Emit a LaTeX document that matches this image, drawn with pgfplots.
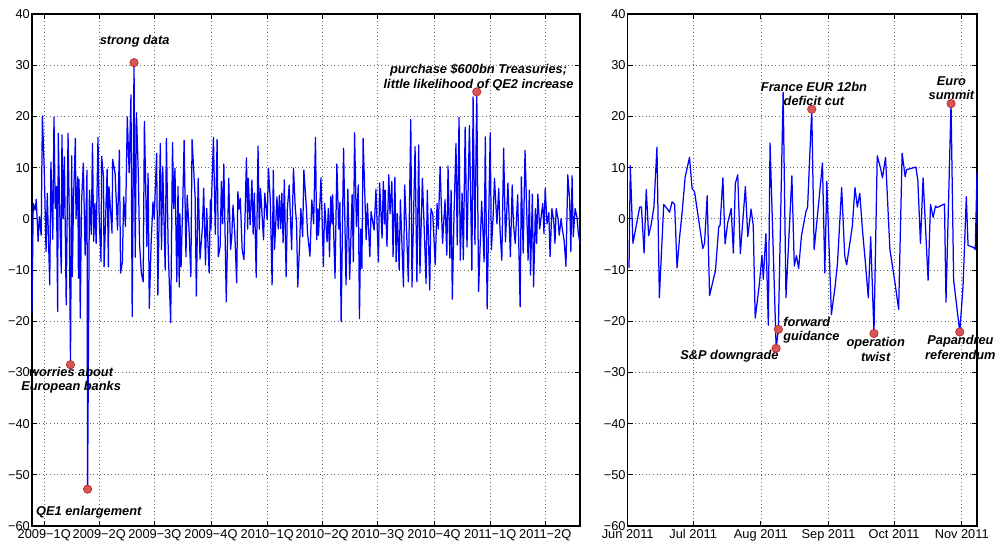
\documentclass[border=0pt]{standalone}
\usepackage{fontspec}
\setmainfont{Liberation Sans}
\usepackage{pgfplots}
\pgfplotsset{compat=1.18}

\definecolor{mred}{RGB}{212,86,86}
\definecolor{mredd}{RGB}{190,30,30}
\newcommand\annot{\fontsize{12.8}{14.5}\selectfont\bfseries\itshape}

\pgfplotsset{
  matlab/.style={
    scale only axis, height=512pt,
    ymin=-60, ymax=40,
    ytick={-60,-50,-40,-30,-20,-10,0,10,20,30,40},
    yticklabels={−60,−50,−40,−30,−20,−10,0,10,20,30,40},
    tick align=inside, tick pos=both,
    major tick length=5pt,
    major tick style={black, line width=0.8pt},
    axis line style={black, line width=1.3pt},
    grid=major,
    major grid style={black!60, line width=0.7pt, dash pattern=on 0.8pt off 2.8pt},
    tick label style={font=\fontsize{12.8}{15}\selectfont},
    yticklabel style={inner xsep=2pt},
    clip=false,
  },
  series/.style={blue, line width=1.25pt, line join=round, no marks},
  event/.style={only marks, mark=*, mark size=4.2pt,
    mark options={fill=mred, draw=mredd, line width=0.6pt}},
}

\begin{document}
\begin{tikzpicture}
\useasboundingbox (0,0) rectangle (995pt,544pt);

% left panel: days since 2009-01-01
\begin{axis}[matlab,
  at={(32pt,18pt)}, anchor=south west, width=548pt,
  xmin=-20, xmax=877,
  xtick={0,90,181,273,365,455,546,638,730,820},
  xticklabels={2009−1Q,2009−2Q,2009−3Q,2009−4Q,2010−1Q,2010−2Q,2010−3Q,2010−4Q,2011−1Q,2011−2Q},
]
\addplot[series] table {
-20 -18.3
-18 3.0
-15 1.7
-13 3.8
-10 -4.4
-8 0.4
-5 -3.2
-3 20.1
0 10.0
3 -6.4
5 5.0
9 -12.9
11 11.1
14 -4.0
16 19.9
18 2.0
20 6.3
22 -18.1
23 16.7
26 -2.0
28 -10.6
29 16.4
31 0.0
33 12.1
36 -16.8
39 16.7
41 1.0
43 -28.5
45 12.3
46 -11.3
48 4.0
51 15.7
52 0.0
55 8.2
56 -11.6
57 7.7
59 -19.4
61 3.0
64 10.9
67 -7.1
70 9.5
71 -52.8
74 5.6
77 -3.0
79 14.7
81 -4.4
83 3.0
85 -4.8
88 15.9
90 0.0
93 -8.4
94 12.2
97 8.2
98 -9.4
103 9.7
105 -9.4
106 6.3
111 -2.8
112 11.6
116 8.9
120 -2.2
123 13.4
125 -10.6
128 -8.4
130 4.3
133 -1.5
136 19.9
139 9.0
142 24.2
144 -19.1
147 30.5
149 -7.5
151 20.7
154 8.9
156 -4.8
159 -10.6
162 -12.3
164 19.0
168 -5.4
170 8.9
172 -17.5
175 -4.8
178 3.3
180 0.0
184 12.8
186 -14.9
190 14.7
192 -6.0
194 10.2
198 -10.0
200 15.7
203 -6.4
207 -20.3
210 14.9
212 2.0
214 9.9
217 -12.3
219 6.3
221 -13.3
222 1.0
224 -9.4
227 4.3
229 15.3
232 -7.4
234 4.6
237 -2.0
240 -11.3
242 15.5
247 4.3
249 -15.1
252 7.9
255 -7.9
259 -1.5
261 6.0
264 -9.0
266 2.0
268 -4.8
270 -10.6
272 3.7
273 -2.0
274 4.3
277 15.9
280 -3.0
283 15.5
285 -7.4
288 -5.4
290 7.3
292 -1.0
294 10.7
298 -16.2
302 7.9
305 -6.0
307 -3.5
309 2.7
312 -3.0
315 -12.5
317 5.3
319 1.9
321 4.0
324 -6.1
327 -8.0
331 11.9
333 -2.0
334 7.9
337 -1.2
340 7.6
342 -3.0
344 5.0
347 -11.4
350 14.2
352 -2.0
354 5.9
359 -4.1
361 5.0
365 -0.2
367 9.9
370 3.7
373 -12.9
375 9.5
377 -6.0
381 4.3
383 -2.0
385 4.6
387 -1.9
389 5.0
391 -4.7
393 7.6
396 -11.3
398 2.0
401 6.6
405 -6.0
408 9.9
411 2.0
413 -0.6
415 -13.3
418 -5.1
420 2.0
423 -3.5
425 9.5
429 2.4
431 -2.8
435 -7.3
438 3.7
441 -1.0
444 15.9
446 -4.1
448 2.0
449 -3.2
453 8.0
457 -9.3
459 3.0
463 -4.5
465 2.0
467 -7.4
469 4.3
471 -1.0
472 4.7
476 -11.6
479 10.7
482 -2.0
484 3.2
486 -20.1
490 13.8
494 -12.9
497 5.8
500 -11.8
504 4.7
506 -8.4
508 16.8
511 -1.5
514 6.6
516 -19.5
518 -2.0
520 -9.7
522 15.7
527 -4.1
529 3.0
533 -7.4
535 1.4
540 -2.2
543 5.8
547 -8.4
549 7.0
553 -3.8
555 7.3
557 -1.0
558 5.6
561 -5.4
564 8.6
566 1.0
569 7.3
571 -7.4
574 8.1
576 -8.4
578 1.0
581 -10.0
583 3.7
588 -13.3
590 6.6
593 -2.0
596 -12.3
600 19.4
602 -13.3
607 14.1
610 -12.3
613 14.4
615 -10.6
619 7.9
622 -2.0
625 -12.6
627 5.6
631 -13.9
633 2.0
636 0.9
640 -9.0
643 3.0
645 -2.0
648 10.2
652 -4.8
656 3.7
659 -7.1
661 10.3
664 -7.7
666 5.6
668 -15.7
671 2.0
674 14.7
676 -5.1
679 19.8
681 -8.1
684 5.0
686 -8.0
689 17.9
692 -5.5
696 18.2
700 -10.0
702 23.8
705 -5.0
708 24.8
711 -14.2
716 3.4
718 -2.0
720 -8.4
722 16.0
725 -17.6
730 16.8
732 -6.0
735 1.0
737 7.9
741 -1.0
744 5.9
746 -2.0
749 -8.1
752 13.8
755 -4.5
759 7.0
763 -7.4
766 6.6
768 -1.0
771 -4.8
775 4.7
779 -17.2
781 8.2
784 -6.7
787 13.4
792 -8.1
794 5.6
796 -11.0
799 4.8
801 -13.3
804 2.0
806 -4.8
808 4.8
811 -2.0
813 0.0
816 3.0
818 -2.9
820 6.0
823 -1.0
826 1.2
828 -7.4
831 2.0
834 -0.5
836 -4.8
838 2.0
841 0.0
843 -3.2
846 0.0
848 -2.0
851 -4.2
854 -9.3
857 8.6
860 3.7
862 -6.4
864 8.4
866 -3.5
869 2.0
872 0.3
874 -2.5
877 -5.0
};
\addplot[event] coordinates {(43,-28.5) (71,-52.8) (147,30.5) (708,24.8)};
\node[font=\annot] at (axis cs:148,34.7) {strong data};
\node[font=\annot, align=center, anchor=north, inner sep=0pt] at (axis cs:44,-28.9) {worries about\\European banks};
\node[font=\annot] at (axis cs:73,-57.3) {QE1 enlargement};
\node[font=\annot, align=center] at (axis cs:711,27.6) {purchase \$600bn Treasuries;\\little likelihood of QE2 increase};
\end{axis}

% right panel: days since 2011-06-01
\begin{axis}[matlab,
  at={(627.7pt,18pt)}, anchor=south west, width=349.3pt,
  xmin=0, xmax=160,
  xtick={0,30,61,92,122,153},
  xticklabels={Jun 2011,Jul 2011,Aug 2011,Sep 2011,Oct 2011,Nov 2011},
]
\addplot[series] table {
0.6 -9.6
1.2 10.4
2.4 -4.8
5.5 2.3
6.3 2.3
7.5 -6.7
8.5 5.7
9.6 -3.3
10.8 -1.0
12.0 2.3
13.4 14.0
14.5 -15.4
16.5 2.8
18.0 2.0
19.2 1.3
20.3 3.3
21.5 2.8
22.6 -9.6
23.8 -3.5
25.0 1.6
26.3 8.1
28.3 12.0
29.5 5.9
30.6 5.3
32.1 1.0
34.4 -5.8
35.2 -4.8
36.4 4.5
37.5 -15.0
38.7 -12.8
40.2 -10.1
41.7 -1.6
42.3 -1.3
43.6 8.0
44.6 -4.9
45.8 -0.8
47.4 2.0
48.4 -6.7
49.3 6.9
50.4 8.6
51.6 -6.8
53.9 6.3
55.0 -3.5
56.5 1.9
57.5 -1.3
58.4 -19.4
60.3 -12.8
61.5 -7.1
62.1 -11.8
63.3 -2.9
64.4 -20.8
65.2 14.8
68.0 -25.3
69.0 -21.6
71.2 24.7
72.5 -15.4
75.2 8.4
76.3 -9.2
77.3 -7.2
78.3 -9.7
79.6 -3.3
81.6 1.3
82.4 2.3
84.3 21.4
85.4 -6.0
87.7 4.1
89.2 10.9
90.3 -10.6
91.2 7.3
93.3 -18.7
95.0 -13.2
96.1 -8.6
98.0 6.1
99.4 -7.2
100.3 -9.0
102.9 -1.4
104.1 6.1
105.2 2.3
106.3 5.0
107.5 -2.0
109.0 -9.2
110.2 -15.4
111.3 -3.5
112.8 -22.4
114.3 12.3
115.8 9.9
116.7 8.0
118.1 12.0
120.1 -6.0
122.4 -12.4
124.1 -17.7
125.7 12.8
127.1 8.2
127.7 9.6
132.0 10.1
132.9 7.5
134.1 -4.8
135.3 8.0
137.6 -12.0
138.7 2.8
139.9 0.3
141.0 2.5
141.7 2.2
145.1 2.9
145.8 -16.3
148.1 22.5
149.3 -12.0
152.1 -22.1
153.6 -13.2
155.1 4.3
155.9 -5.2
158.4 -5.6
159.2 -6.0
160.0 9.0
};
\addplot[event] coordinates {(68.0,-25.3) (69.0,-21.6) (84.3,21.4) (112.8,-22.4) (148.1,22.5) (152.1,-22.1)};
\node[font=\annot, align=center] at (axis cs:85.3,24.4) {France EUR 12bn\\deficit cut};
\node[font=\annot, align=center] at (axis cs:148.3,25.5) {Euro\\summit};
\node[font=\annot] at (axis cs:46.6,-26.9) {S\&P downgrade};
\node[font=\annot, align=left, anchor=west, inner sep=0pt] at (axis cs:71.2,-21.8) {forward\\guidance};
\node[font=\annot, align=center] at (axis cs:113.6,-25.5) {operation\\twist};
\node[font=\annot, align=center] at (axis cs:152.4,-25.1) {Papandreu\\referendum};
\end{axis}
\end{tikzpicture}
\end{document}
